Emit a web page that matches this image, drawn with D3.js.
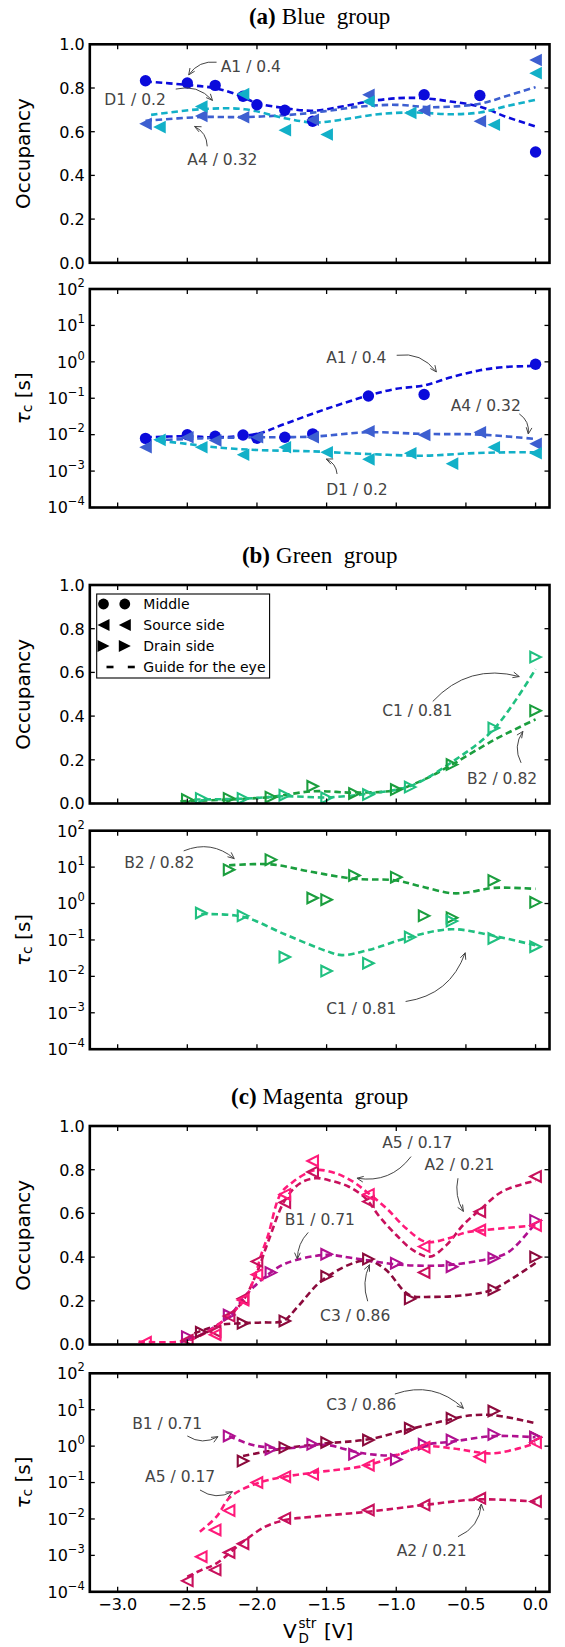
<!DOCTYPE html>
<html>
<head>
<meta charset="utf-8">
<script src="https://cdn.jsdelivr.net/npm/d3@7"></script>
<style>
  body { margin: 0; background: #fff; }
  svg { display: block; font-family: "DejaVu Sans", sans-serif; }
</style>
</head>
<body>
<svg id="chart" width="565" height="1647"></svg>
<script>
// ---------- data: [V_D^str, value] ----------

// (a) Blue group - occupancy
const A1_occ = [[-2.8,0.833],[-2.5,0.823],[-2.3,0.812],[-2.1,0.762],[-2.0,0.723],[-1.8,0.698],[-1.6,0.648],[-0.8,0.769],[-0.4,0.766],[0.0,0.507]];
const A4_occ = [[-2.8,0.636],[-2.4,0.672],[-2.1,0.666],[-1.6,0.655],[-1.2,0.769],[-0.8,0.697],[-0.4,0.648],[0.0,0.928]];
const D1_occ = [[-2.7,0.621],[-2.4,0.715],[-2.1,0.772],[-1.8,0.607],[-1.5,0.587],[-1.2,0.738],[-0.9,0.686],[-0.3,0.632],[0.0,0.868]];
const A1_occ_guide = [[-2.8,0.83],[-2.5,0.814],[-2.3,0.799],[-2.14,0.769],[-2.0,0.731],[-1.8,0.708],[-1.6,0.696],[-1.39,0.715],[-1.2,0.738],[-1.0,0.753],[-0.8,0.753],[-0.61,0.738],[-0.4,0.715],[-0.22,0.67],[0.0,0.624]];
const A4_occ_guide = [[-2.8,0.65],[-2.4,0.667],[-2.09,0.667],[-1.77,0.677],[-1.52,0.693],[-1.26,0.715],[-1.0,0.723],[-0.74,0.712],[-0.4,0.728],[-0.22,0.761],[0.0,0.804]];
const D1_occ_guide = [[-2.76,0.677],[-2.4,0.703],[-2.09,0.703],[-1.8,0.662],[-1.59,0.642],[-1.39,0.655],[-1.13,0.68],[-0.87,0.688],[-0.61,0.68],[-0.4,0.688],[-0.22,0.715],[0.0,0.746]];

// (a) Blue group - capture time [s]
const A1_tau = [[-2.8,0.0079],[-2.5,0.010],[-2.3,0.0091],[-2.1,0.0098],[-2.0,0.008],[-1.8,0.0085],[-1.6,0.0105],[-1.2,0.115],[-0.8,0.127],[0.0,0.855]];
const A4_tau = [[-2.8,0.0045],[-2.5,0.0085],[-2.3,0.0069],[-2.0,0.0085],[-1.6,0.0085],[-1.2,0.0124],[-0.8,0.0098],[-0.4,0.0116],[0.0,0.0056]];
const D1_tau = [[-2.7,0.0072],[-2.4,0.0045],[-2.1,0.0028],[-1.8,0.0045],[-1.5,0.0033],[-1.2,0.0021],[-0.9,0.0031],[-0.6,0.0016],[-0.3,0.0045],[0.0,0.0031]];
const A1_tau_guide = [[-2.8,0.00847],[-2.5,0.00904],[-2.3,0.00847],[-2.0,0.01047],[-1.8,0.0198],[-1.5,0.0513],[-1.2,0.119],[-1.0,0.182],[-0.8,0.225],[-0.6,0.383],[-0.4,0.585],[-0.22,0.721],[0.0,0.769]];
const A4_tau_guide = [[-2.8,0.00686],[-2.5,0.00762],[-2.3,0.00813],[-2.0,0.00847],[-1.6,0.00885],[-1.2,0.01164],[-0.8,0.01047],[-0.4,0.01005],[0.0,0.00762]];
const D1_tau_guide = [[-2.7,0.00686],[-2.5,0.00556],[-2.3,0.0045],[-2.0,0.00379],[-1.6,0.00348],[-1.2,0.00294],[-0.8,0.00265],[-0.48,0.00307],[-0.22,0.00327],[0.0,0.00327]];

// (b) Green group - occupancy
const B2_occ = [[-2.5,0.018],[-2.2,0.023],[-1.9,0.029],[-1.6,0.079],[-1.3,0.046],[-1.0,0.064],[-0.6,0.178],[0.0,0.425]];
const C1_occ = [[-2.4,0.023],[-2.1,0.023],[-1.8,0.038],[-1.5,0.026],[-1.2,0.041],[-0.9,0.075],[-0.3,0.346],[0.0,0.67]];
const B2_occ_guide = [[-2.55,0.01],[-2.2,0.018],[-1.9,0.03],[-1.6,0.056],[-1.3,0.05],[-1.0,0.062],[-0.8,0.11],[-0.6,0.178],[-0.3,0.29],[0.0,0.385]];
const C1_occ_guide = [[-2.45,0.018],[-2.1,0.022],[-1.8,0.033],[-1.5,0.028],[-1.2,0.045],[-0.9,0.08],[-0.6,0.19],[-0.3,0.34],[0.0,0.615]];

// (b) Green group - capture time [s]
const B2_tau = [[-2.2,8.5],[-1.9,16],[-1.6,1.42],[-1.5,1.28],[-1.3,5.9],[-1.0,5.3],[-0.8,0.46],[-0.6,0.41],[-0.3,4.3],[0.0,1.08]];
const C1_tau = [[-2.4,0.55],[-2.1,0.46],[-1.8,0.034],[-1.5,0.014],[-1.2,0.023],[-0.9,0.12],[-0.6,0.33],[-0.3,0.11],[0.0,0.065]];
const B2_tau_guide = [[-2.2,11.2],[-1.9,11.9],[-1.6,7.31],[-1.3,4.79],[-1.0,4.30],[-0.82,2.93],[-0.6,1.92],[-0.48,2.04],[-0.3,2.69],[0.0,2.53]];
const C1_tau_guide = [[-2.4,0.513],[-2.1,0.433],[-1.8,0.143],[-1.5,0.0494],[-1.39,0.0384],[-1.2,0.0527],[-0.9,0.121],[-0.6,0.197],[-0.3,0.129],[0.0,0.071]];

// (c) Magenta group - occupancy
const A5_occ = [[-2.8,0.01],[-2.3,0.045],[-2.1,0.204],[-2.0,0.32],[-1.8,0.687],[-1.6,0.84],[-1.2,0.687],[-0.8,0.448],[-0.4,0.524],[0.0,0.545]];
const A2_occ = [[-2.5,0.02],[-2.3,0.06],[-2.2,0.13],[-2.1,0.21],[-2.0,0.38],[-1.8,0.65],[-1.6,0.79],[-1.2,0.654],[-0.8,0.33],[-0.4,0.608],[0.0,0.769]];
const B1_occ = [[-2.5,0.036],[-2.2,0.135],[-1.9,0.329],[-1.5,0.413],[-1.0,0.372],[-0.6,0.356],[-0.3,0.395],[0.0,0.568]];
const C3_occ = [[-2.4,0.056],[-2.1,0.097],[-1.8,0.108],[-1.5,0.312],[-1.2,0.391],[-0.9,0.209],[-0.3,0.251],[0.0,0.40]];
const A5_occ_guide = [[-2.85,0.013],[-2.52,0.016],[-2.35,0.059],[-2.21,0.127],[-2.09,0.204],[-2.02,0.303],[-1.97,0.41],[-1.92,0.50],[-1.83,0.69],[-1.74,0.745],[-1.62,0.791],[-1.55,0.799],[-1.43,0.783],[-1.31,0.745],[-1.2,0.692],[-1.07,0.623],[-0.93,0.532],[-0.79,0.47],[-0.64,0.483],[-0.5,0.513],[-0.36,0.524],[0.0,0.545]];
const A2_occ_guide = [[-2.5,0.02],[-2.35,0.06],[-2.2,0.13],[-2.1,0.2],[-2.0,0.33],[-1.92,0.47],[-1.8,0.66],[-1.69,0.738],[-1.58,0.761],[-1.46,0.748],[-1.34,0.722],[-1.22,0.669],[-1.12,0.585],[-1.0,0.501],[-0.88,0.432],[-0.76,0.402],[-0.64,0.455],[-0.52,0.547],[-0.4,0.616],[-0.24,0.70],[0.0,0.75]];
const B1_occ_guide = [[-2.48,0.02],[-2.36,0.06],[-2.2,0.13],[-2.06,0.24],[-1.9,0.33],[-1.79,0.372],[-1.51,0.41],[-1.31,0.395],[-1.01,0.367],[-0.84,0.361],[-0.62,0.364],[-0.32,0.395],[-0.19,0.425],[0.0,0.556]];
const C3_occ_guide = [[-2.45,0.051],[-2.26,0.09],[-2.11,0.097],[-1.97,0.101],[-1.81,0.108],[-1.71,0.171],[-1.52,0.30],[-1.22,0.385],[-1.08,0.345],[-0.91,0.228],[-0.74,0.218],[-0.48,0.228],[-0.31,0.251],[0.0,0.373]];

// (c) Magenta group - capture time [s]
const C3_tau = [[-2.1,0.39],[-1.8,0.91],[-1.5,1.25],[-1.2,1.47],[-0.9,3.1],[-0.6,5.8],[-0.3,9.2],[0.0,1.75]];
const B1_tau = [[-2.2,1.9],[-1.9,0.82],[-1.6,1.12],[-1.3,0.60],[-1.0,0.43],[-0.8,1.12],[-0.6,1.47],[-0.3,2.1],[0.0,1.75]];
const A5_tau = [[-2.4,0.00092],[-2.3,0.005],[-2.2,0.017],[-2.0,0.10],[-1.8,0.145],[-1.6,0.168],[-1.2,0.30],[-0.8,0.93],[-0.4,0.51],[0.0,1.25]];
const A2_tau = [[-2.5,0.0002],[-2.3,0.0004],[-2.2,0.0012],[-2.1,0.0021],[-1.8,0.0105],[-1.2,0.0176],[-0.8,0.024],[-0.4,0.037],[0.0,0.030]];
const C3_tau_guide = [[-2.1,0.536],[-1.8,0.871],[-1.5,1.194],[-1.2,1.538],[-0.91,2.897],[-0.61,5.445],[-0.5,6.73],[-0.31,7.16],[0.0,4.23]];
const B1_tau_guide = [[-2.2,1.897],[-2.03,1.074],[-1.8,0.871],[-1.5,1.074],[-1.3,0.705],[-1.2,0.608],[-1.0,0.570],[-0.8,1.074],[-0.6,1.327],[-0.3,1.897],[0.0,1.746]];
const A5_tau_guide = [[-2.41,0.00447],[-2.29,0.01153],[-2.19,0.0409],[-2.0,0.0951],[-1.8,0.1449],[-1.6,0.1866],[-1.2,0.3034],[-0.8,0.966],[-0.6,0.871],[-0.3,0.634],[0.0,1.194]];
const A2_tau_guide = [[-2.5,0.000259],[-2.4,0.000395],[-2.29,0.000603],[-2.1,0.00237],[-1.94,0.00614],[-1.8,0.00933],[-1.6,0.01153],[-1.2,0.01585],[-0.8,0.02415],[-0.4,0.0345],[0.0,0.0298]];

// annotations: label, text anchor point, arrow tail, arrow head, arc bend
const notes_a_occ = [
  {label: 'A1 / 0.4', at: [-2.26, 0.898], from: [-2.29, 0.918], to: [-2.49, 0.86], rad: 0.3},
  {label: 'D1 / 0.2', at: [-3.096, 0.749], from: [-2.583, 0.795], to: [-2.319, 0.743], rad: -0.3},
  {label: 'A4 / 0.32', at: [-2.5, 0.475], from: [-2.357, 0.533], to: [-2.448, 0.624], rad: 0.3}
];
const notes_a_tau = [
  {label: 'A1 / 0.4', at: [-1.503, 1.306], from: [-0.997, 1.514], to: [-0.712, 0.526], rad: -0.3},
  {label: 'A4 / 0.32', at: [-0.609, 0.0634], from: [-0.117, 0.0373], to: [-0.052, 0.01047], rad: -0.3},
  {label: 'D1 / 0.2', at: [-1.503, 0.000319], from: [-1.425, 0.000832], to: [-1.503, 0.00214], rad: 0.3}
];
const notes_b_occ = [
  {label: 'C1 / 0.81', at: [-1.101, 0.425], from: [-0.738, 0.467], to: [-0.117, 0.581], rad: -0.3},
  {label: 'B2 / 0.82', at: [-0.492, 0.117], from: [-0.104, 0.186], to: [-0.091, 0.33], rad: -0.3}
];
const notes_b_tau = [
  {label: 'B2 / 0.82', at: [-2.953, 13.84], from: [-2.526, 27.9], to: [-2.163, 17.1], rad: -0.3},
  {label: 'C1 / 0.81', at: [-1.503, 0.00133], from: [-0.933, 0.00204], to: [-0.505, 0.0445], rad: 0.3}
];
const notes_c_occ = [
  {label: 'A5 / 0.17', at: [-1.101, 0.924], from: [-0.894, 0.86], to: [-1.282, 0.761], rad: -0.3},
  {label: 'A2 / 0.21', at: [-0.798, 0.822], from: [-0.557, 0.761], to: [-0.518, 0.609], rad: 0.2},
  {label: 'B1 / 0.71', at: [-1.80, 0.574], from: [-1.632, 0.513], to: [-1.71, 0.391], rad: 0.2},
  {label: 'C3 / 0.86', at: [-1.547, 0.132], from: [-1.205, 0.198], to: [-1.192, 0.365], rad: -0.2}
];
const notes_c_tau = [
  {label: 'C3 / 0.86', at: [-1.503, 14.39], from: [-1.01, 27.0], to: [-0.518, 10.9], rad: -0.3},
  {label: 'B1 / 0.71', at: [-2.896, 4.23], from: [-2.5, 1.90], to: [-2.28, 1.82], rad: 0.3},
  {label: 'A5 / 0.17', at: [-2.803, 0.145], from: [-2.409, 0.0624], to: [-2.176, 0.0562], rad: 0.3},
  {label: 'A2 / 0.21', at: [-0.997, 0.0014], from: [-0.557, 0.00326], to: [-0.389, 0.0257], rad: 0.3}
];

// ticks
const xTicks = [-3.0, -2.5, -2.0, -1.5, -1.0, -0.5, 0.0];
const occTicks = [0.0, 0.2, 0.4, 0.6, 0.8, 1.0];
const tauTicks = [1e-4, 1e-3, 1e-2, 1e-1, 1e0, 1e1, 1e2];

const legendItems = [
  {label: 'Middle', kind: 'dot'},
  {label: 'Source side', kind: 'left'},
  {label: 'Drain side', kind: 'right'},
  {label: 'Guide for the eye', kind: 'dash'}
];

// colours
const C = {
  A1: '#0b0bdb', A4: '#3d5fd0', D1: '#12b0c8',
  B2: '#1b9e3e', C1: '#20c080',
  A5: '#ff1a7a', A2: '#c8105c', B1: '#b01090', C3: '#8b0a3c'
};

// ---------- layout ----------
const PLOT_LEFT = 89.8, PLOT_RIGHT = 549.5, PLOT_H = 218.5;
const TEXT_GREY = '#454545';
const SERIF = '"Liberation Serif", "Times New Roman", serif';

const groups = [
  {tag: '(a)', name: 'Blue group', titleY: 17, occTop: 44.3, tauTop: 289,
   occ: [
     {pts: A1_occ, guide: A1_occ_guide, color: C.A1, marker: 'dot'},
     {pts: A4_occ, guide: A4_occ_guide, color: C.A4, marker: 'left'},
     {pts: D1_occ, guide: D1_occ_guide, color: C.D1, marker: 'left'}
   ],
   tau: [
     {pts: A1_tau, guide: A1_tau_guide, color: C.A1, marker: 'dot'},
     {pts: A4_tau, guide: A4_tau_guide, color: C.A4, marker: 'left'},
     {pts: D1_tau, guide: D1_tau_guide, color: C.D1, marker: 'left'}
   ],
   occNotes: notes_a_occ, tauNotes: notes_a_tau},
  {tag: '(b)', name: 'Green group', titleY: 555.5, occTop: 585, tauTop: 830.7, legend: true,
   occ: [
     {pts: B2_occ, guide: B2_occ_guide, color: C.B2, marker: 'rightOpen'},
     {pts: C1_occ, guide: C1_occ_guide, color: C.C1, marker: 'rightOpen'}
   ],
   tau: [
     {pts: B2_tau, guide: B2_tau_guide, color: C.B2, marker: 'rightOpen'},
     {pts: C1_tau, guide: C1_tau_guide, color: C.C1, marker: 'rightOpen'}
   ],
   occNotes: notes_b_occ, tauNotes: notes_b_tau},
  {tag: '(c)', name: 'Magenta group', titleY: 1097, occTop: 1126, tauTop: 1373.3, xLabels: true,
   occ: [
     {pts: C3_occ, guide: C3_occ_guide, color: C.C3, marker: 'rightOpen'},
     {pts: B1_occ, guide: B1_occ_guide, color: C.B1, marker: 'rightOpen'},
     {pts: A2_occ, guide: A2_occ_guide, color: C.A2, marker: 'leftOpen'},
     {pts: A5_occ, guide: A5_occ_guide, color: C.A5, marker: 'leftOpen'}
   ],
   tau: [
     {pts: C3_tau, guide: C3_tau_guide, color: C.C3, marker: 'rightOpen'},
     {pts: B1_tau, guide: B1_tau_guide, color: C.B1, marker: 'rightOpen'},
     {pts: A2_tau, guide: A2_tau_guide, color: C.A2, marker: 'leftOpen'},
     {pts: A5_tau, guide: A5_tau_guide, color: C.A5, marker: 'leftOpen'}
   ],
   occNotes: notes_c_occ, tauNotes: notes_c_tau}
];

const svg = d3.select('#chart');
const x = d3.scaleLinear().domain([-3.2, 0.1]).range([PLOT_LEFT, PLOT_RIGHT]);

function trianglePath(dir, s) {
  // matplotlib-like triangle: tip on one side, flat base on the other
  return dir === 'left'
    ? `M${-s},0L${s},${-s}L${s},${s}Z`
    : `M${s},0L${-s},${-s}L${-s},${s}Z`;
}

function drawMarkers(g, pts, xs, ys, kind, color) {
  const sel = g.append('g').selectAll('.m').data(pts).join(kind === 'dot' ? 'circle' : 'path')
    .attr('class', 'm');
  if (kind === 'dot') {
    sel.attr('cx', d => xs(d[0])).attr('cy', d => ys(d[1])).attr('r', 5.7).attr('fill', color);
  } else if (kind === 'left') {
    sel.attr('d', trianglePath('left', 6.3))
      .attr('transform', d => `translate(${xs(d[0])},${ys(d[1])})`)
      .attr('fill', color);
  } else {
    sel.attr('d', trianglePath(kind === 'leftOpen' ? 'left' : 'right', 5.3))
      .attr('transform', d => `translate(${xs(d[0])},${ys(d[1])})`)
      .attr('fill', 'none').attr('stroke', color).attr('stroke-width', 2.1)
      .attr('stroke-linejoin', 'miter');
  }
}

function drawArrow(g, p0, p1, rad) {
  const [x0, y0] = p0, [x1, y1] = p1;
  const mx = (x0 + x1) / 2, my = (y0 + y1) / 2;
  const dx = x1 - x0, dy = y1 - y0;
  const cx = mx - rad * dy, cy = my + rad * dx;
  g.append('path')
    .attr('d', `M${x0},${y0}Q${cx},${cy} ${x1},${y1}`)
    .attr('fill', 'none').attr('stroke', TEXT_GREY).attr('stroke-width', 1);
  const ang = Math.atan2(y1 - cy, x1 - cx), L = 7, a = 0.42;
  g.append('path')
    .attr('d', `M${x1 - L * Math.cos(ang - a)},${y1 - L * Math.sin(ang - a)}L${x1},${y1}L${x1 - L * Math.cos(ang + a)},${y1 - L * Math.sin(ang + a)}`)
    .attr('fill', 'none').attr('stroke', TEXT_GREY).attr('stroke-width', 1);
}

function drawPanel(top, kind, series, notes, opts) {
  const bottom = top + PLOT_H;
  const y = kind === 'occ'
    ? d3.scaleLinear().domain([0, 1]).range([bottom, top])
    : d3.scaleLog().domain([1e-4, 1e2]).range([bottom, top]);
  const yTicks = kind === 'occ' ? occTicks : tauTicks;
  const g = svg.append('g');

  const clipId = 'clip' + Math.round(top);
  g.append('clipPath').attr('id', clipId).append('rect')
    .attr('x', PLOT_LEFT).attr('y', top).attr('width', PLOT_RIGHT - PLOT_LEFT).attr('height', PLOT_H);
  const plot = g.append('g').attr('clip-path', `url(#${clipId})`);

  const line = d3.line().x(d => x(d[0])).y(d => y(d[1])).curve(d3.curveCatmullRom.alpha(0.5));

  // guides, then markers
  series.forEach(s => {
    plot.append('path').datum(s.guide).attr('d', line)
      .attr('fill', 'none').attr('stroke', s.color).attr('stroke-width', 2.6)
      .attr('stroke-dasharray', '6.5,3.8');
  });
  series.forEach(s => drawMarkers(plot, s.pts, x, y, s.marker, s.color));

  // ticks on all four sides, pointing in
  const tk = g.append('g').attr('stroke', '#000').attr('stroke-width', 1.3);
  xTicks.forEach(v => {
    tk.append('line').attr('x1', x(v)).attr('x2', x(v)).attr('y1', bottom).attr('y2', bottom - 5);
    tk.append('line').attr('x1', x(v)).attr('x2', x(v)).attr('y1', top).attr('y2', top + 5);
  });
  yTicks.forEach(v => {
    tk.append('line').attr('x1', PLOT_LEFT).attr('x2', PLOT_LEFT + 5).attr('y1', y(v)).attr('y2', y(v));
    tk.append('line').attr('x1', PLOT_RIGHT).attr('x2', PLOT_RIGHT - 5).attr('y1', y(v)).attr('y2', y(v));
  });

  // y tick labels
  yTicks.forEach(v => {
    const t = g.append('text').attr('x', PLOT_LEFT - 5).attr('y', y(v) + 5.8)
      .attr('text-anchor', 'end').attr('font-size', 16).attr('fill', '#000');
    if (kind === 'occ') {
      t.text(v.toFixed(1));
    } else {
      const e = Math.round(Math.log10(v));
      t.append('tspan').text('10');
      t.append('tspan').attr('dy', -8).attr('font-size', 11.5).text(e < 0 ? '\u2212' + (-e) : String(e));
    }
  });

  // frame
  g.append('rect').attr('x', PLOT_LEFT).attr('y', top)
    .attr('width', PLOT_RIGHT - PLOT_LEFT).attr('height', PLOT_H)
    .attr('fill', 'none').attr('stroke', '#000').attr('stroke-width', 2.6);

  // y label
  const mid = top + PLOT_H / 2;
  const yl = g.append('text').attr('transform', `translate(23.4,${mid}) rotate(-90)`)
    .attr('text-anchor', 'middle').attr('dominant-baseline', 'central')
    .attr('font-size', 20).attr('fill', '#000');
  if (kind === 'occ') {
    yl.text('Occupancy');
  } else {
    yl.append('tspan').attr('font-style', 'italic').text('\u03c4');
    yl.append('tspan').attr('font-size', 14).attr('dy', 4).text('c');
    yl.append('tspan').attr('dy', -4).text(' [s]');
  }

  // annotations
  notes.forEach(n => {
    g.append('text').attr('x', x(n.at[0])).attr('y', y(n.at[1])).attr('dy', '0.36em')
      .attr('font-size', 15.5).attr('fill', TEXT_GREY).text(n.label);
    drawArrow(g, [x(n.from[0]), y(n.from[1])], [x(n.to[0]), y(n.to[1])], n.rad);
  });

  if (opts.xLabels) {
    xTicks.forEach(v => {
      g.append('text').attr('x', x(v)).attr('y', bottom + 18.5)
        .attr('text-anchor', 'middle').attr('font-size', 16)
        .text(v < 0 ? '\u2212' + Math.abs(v).toFixed(1) : v.toFixed(1));
    });
    const xl = g.append('g').attr('font-size', 20);
    xl.append('text').attr('x', 283).attr('y', bottom + 46).text('V');
    xl.append('text').attr('x', 298.5).attr('y', bottom + 36).attr('font-size', 13.5).text('str');
    xl.append('text').attr('x', 298.5).attr('y', bottom + 51).attr('font-size', 13.5).text('D');
    xl.append('text').attr('x', 324).attr('y', bottom + 46).text('[V]');
  }

  if (opts.legend) drawLegend(g, top);
}

function drawLegend(g, top) {
  const lg = g.append('g');
  lg.append('rect').attr('x', 96.7).attr('y', top + 9).attr('width', 172.9).attr('height', 84)
    .attr('fill', '#fff').attr('stroke', '#000').attr('stroke-width', 1.1);
  const rowY = d3.scaleLinear().domain([0, 3]).range([top + 19, top + 82]);
  legendItems.forEach((it, i) => {
    const cy = rowY(i);
    [103.5, 124.8].forEach(cx => {
      if (it.kind === 'dot') {
        lg.append('circle').attr('cx', cx).attr('cy', cy).attr('r', 5.4).attr('fill', '#000');
      } else if (it.kind === 'dash') {
        lg.append('line').attr('x1', cx + 3).attr('x2', cx + 10).attr('y1', cy).attr('y2', cy)
          .attr('stroke', '#000').attr('stroke-width', 2.6);
      } else {
        lg.append('path').attr('d', trianglePath(it.kind, 6))
          .attr('transform', `translate(${cx},${cy})`).attr('fill', '#000');
      }
    });
    lg.append('text').attr('x', 143.3).attr('y', cy).attr('dy', '0.36em')
      .attr('font-size', 14).attr('fill', '#000').text(it.label);
  });
}

// titles sit centred over the axes
const titleX = (PLOT_LEFT + PLOT_RIGHT) / 2;

groups.forEach(gr => {
  const t = svg.append('text').attr('x', titleX).attr('y', gr.titleY + 7)
    .attr('text-anchor', 'middle').attr('font-family', SERIF).attr('font-size', 23)
    .attr('fill', '#000');
  t.append('tspan').attr('font-weight', 'bold').text(gr.tag);
  t.append('tspan').attr('dx', 6).text(gr.name.replace(' ', '\u2002'));

  drawPanel(gr.occTop, 'occ', gr.occ, gr.occNotes, {legend: gr.legend});
  drawPanel(gr.tauTop, 'tau', gr.tau, gr.tauNotes, {xLabels: gr.xLabels});
});
</script>
</body>
</html>
